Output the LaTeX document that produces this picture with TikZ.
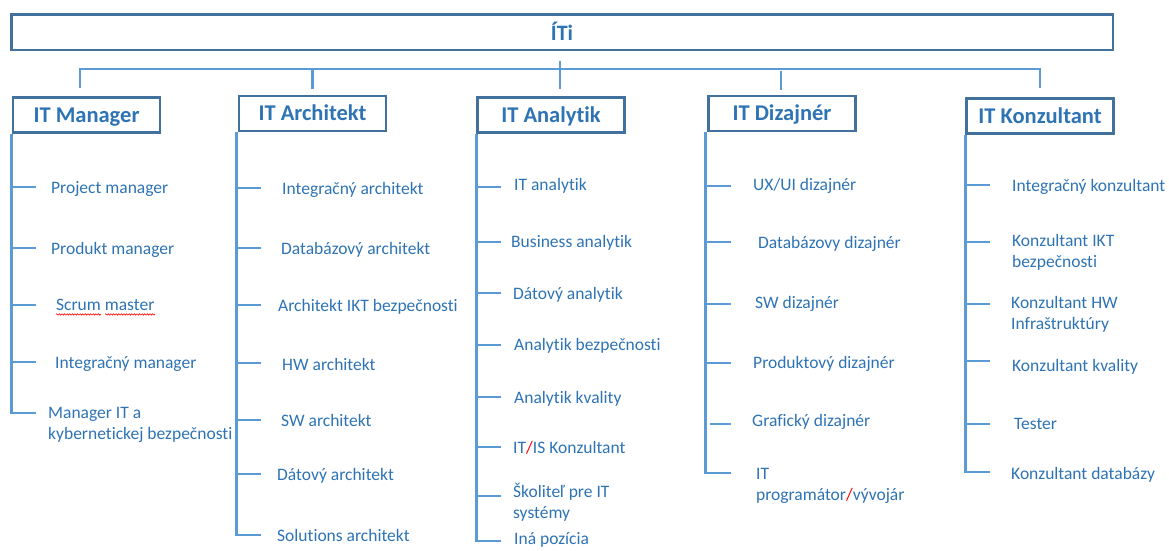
\documentclass[tikz,border=0pt]{standalone}
\usepackage{fontspec}
\setmainfont{Carlito}[Ligatures=NoCommon]
\usetikzlibrary{decorations.pathmorphing}
\definecolor{txtblue}{HTML}{2E74B5}
\definecolor{boxblue}{HTML}{41719C}
\definecolor{lineblue}{HTML}{5B9BD5}
\newcommand\stru{\rule[-4.5pt]{0pt}{15pt}}
\begin{document}
\begin{tikzpicture}[x=1pt,y=-1pt,
  rootbox/.style={draw=boxblue, line width=2.5pt, inner sep=0, minimum width=1101.5pt, minimum height=35.5pt, text=txtblue, text height=16pt, text depth=0pt, font=\bfseries\fontsize{22}{26}\selectfont},
  catbox/.style={draw=boxblue, line width=2.5pt, inner sep=0, minimum width=147pt, minimum height=35pt, text=txtblue, text height=14pt, text depth=0pt, font=\bfseries\fontsize{22.5}{27}\selectfont},
  item/.style={anchor=west, inner sep=0, yshift=-2.5pt, text=txtblue, align=left, font=\fontsize{17.5}{21}\selectfont, execute at begin node=\stru},
  bus/.style={draw=lineblue, line width=2.3pt},
  spine/.style={draw=lineblue, line width=2.8pt},
  squig/.style={draw=red, line width=0.6pt, decorate, decoration={snake, amplitude=0.7pt, segment length=2.6pt}}]
\useasboundingbox[fill=white] (0,0) rectangle (1169,550);

% root and category boxes
\node[rootbox] (root) at (562,32) {ÍTi};
\node[catbox] (mgr)  at (86.5,115)   {IT Manager};
\node[catbox] (arch) at (312.5,113.5) {IT Architekt};
\node[catbox] (anal) at (551,115)    {IT Analytik};
\node[catbox] (diz)  at (782,113.5)  {IT Dizajnér};
\node[catbox] (kon)  at (1040,116)   {IT Konzultant};

% bus
\draw[bus] ([xshift=-6.5pt,yshift=8pt]mgr.north) -- ++(0,-19) -| ([yshift=9pt]kon.north);
\draw[bus] ([xshift=-2pt,yshift=-10pt]root.south) -- ([xshift=9pt,yshift=7pt]anal.north);
\draw[bus] ([yshift=5.5pt]arch.north) -- ++(0,-19);
\draw[bus] ([xshift=-1pt,yshift=5pt]diz.north) -- ++(0,-19);

% ---------------- IT Manager
\node[item] (m1) at (51,187) {Project manager};
\node[item] (m2) at (51,248) {Produkt manager};
\node[item] (m3) at (56,305) {Scrum master};
\node[item] (m4) at (55,362) {Integračný manager};
\node[item] (m5) at (48,423.5) {Manager IT a\\\stru kybernetickej bezpečnosti};
\coordinate (m1t) at (36,187);
\coordinate (m2t) at (36,248);
\coordinate (m3t) at (36,305);
\coordinate (m4t) at (36,362);
\coordinate (m5t) at (36,413);
\draw[spine] (mgr.south west) |- (m5t);
\foreach \t in {m1t,m2t,m3t,m4t} \draw[spine] (\t -| mgr.south west) -- (\t);
\draw[squig] ([yshift=-3.5pt]m3.base west) -- ++(45,0);
\draw[squig] ([xshift=49pt,yshift=-3.5pt]m3.base west) -- ++(50,0);

% ---------------- IT Architekt
\node[item] (a1) at (282,188) {Integračný architekt};
\node[item] (a2) at (281,248) {Databázový architekt};
\node[item] (a3) at (278,305) {Architekt IKT bezpečnosti};
\node[item] (a4) at (282,364) {HW architekt};
\node[item] (a5) at (281,420) {SW architekt};
\node[item] (a6) at (277,474) {Dátový architekt};
\node[item] (a7) at (277,535) {Solutions architekt};
\coordinate (a1t) at (261,188);
\coordinate (a2t) at (261,248);
\coordinate (a3t) at (261,305);
\coordinate (a4t) at (261,363);
\coordinate (a5t) at (261,420);
\coordinate (a6t) at (261,474);
\coordinate (a7t) at (261,535);
\draw[spine] ([xshift=-1pt]arch.south west) |- (a7t);
\foreach \t in {a1t,a2t,a3t,a4t,a5t,a6t} \draw[spine] (\t -| arch.south west) ++(-1,0) -- (\t);

% ---------------- IT Analytik
\node[item] (n1) at (514,184) {IT analytik};
\node[item] (n2) at (511,241) {Business analytik};
\node[item] (n3) at (513,293) {Dátový analytik};
\node[item] (n4) at (514,344) {Analytik bezpečnosti};
\node[item] (n5) at (514,397) {Analytik kvality};
\node[item] (n6) at (513,447) {IT{\color{red}/}IS Konzultant};
\node[item] (n7) at (513,501) {Školiteľ pre IT\\\stru systémy};
\node[item] (n8) at (514,538) {Iná pozícia};
\coordinate (n1t) at (501,187);
\coordinate (n2t) at (501,242);
\coordinate (n3t) at (501,293);
\coordinate (n4t) at (501,345);
\coordinate (n5t) at (501,397);
\coordinate (n6t) at (501,447);
\coordinate (n7t) at (501,496);
\coordinate (n8t) at (501,541);
\draw[spine] (anal.south west) |- (n8t);
\foreach \t in {n1t,n2t,n3t,n4t,n5t,n6t,n7t} \draw[spine] (\t -| anal.south west) -- (\t);

% ---------------- IT Dizajnér
\node[item] (d1) at (753,184) {UX/UI dizajnér};
\node[item] (d2) at (758,242) {Databázovy dizajnér};
\node[item] (d3) at (755,302) {SW dizajnér};
\node[item] (d4) at (753,362) {Produktový dizajnér};
\node[item] (d5) at (752,420) {Grafický dizajnér};
\node[item] (d6) at (756,484) {IT\\\stru programátor{\color{red}/}vývojár};
\coordinate (d1t) at (731,186);
\coordinate (d2t) at (731,242);
\coordinate (d3t) at (731,304);
\coordinate (d4t) at (731,363);
\coordinate (d5t) at (731,424);
\coordinate (d6t) at (731,473);
\draw[spine] ([xshift=-1.5pt]diz.south west) |- (d6t);
\foreach \t in {d1t,d2t,d3t,d4t} \draw[spine] (\t -| diz.south west) ++(-1.5,0) -- (\t);
\draw[spine] (d5t -| diz.south west) ++(2.5,0) -- (d5t);

% ---------------- IT Konzultant
\node[item] (k1) at (1012,185) {Integračný konzultant};
\node[item] (k2) at (1012,251) {Konzultant IKT\\\stru bezpečnosti};
\node[item] (k3) at (1011,313) {Konzultant HW\\\stru Infraštruktúry};
\node[item] (k4) at (1012,365) {Konzultant kvality};
\node[item] (k5) at (1014,424) {Tester};
\node[item] (k6) at (1011,473) {Konzultant databázy};
\coordinate (k1t) at (990,185);
\coordinate (k2t) at (990,242);
\coordinate (k3t) at (990,304);
\coordinate (k4t) at (990,361);
\coordinate (k5t) at (990,424);
\coordinate (k6t) at (990,472);
\draw[spine] (kon.south west) |- (k6t);
\foreach \t in {k1t,k2t,k3t,k4t,k5t} \draw[spine] (\t -| kon.south west) -- (\t);
\end{tikzpicture}
\end{document}
